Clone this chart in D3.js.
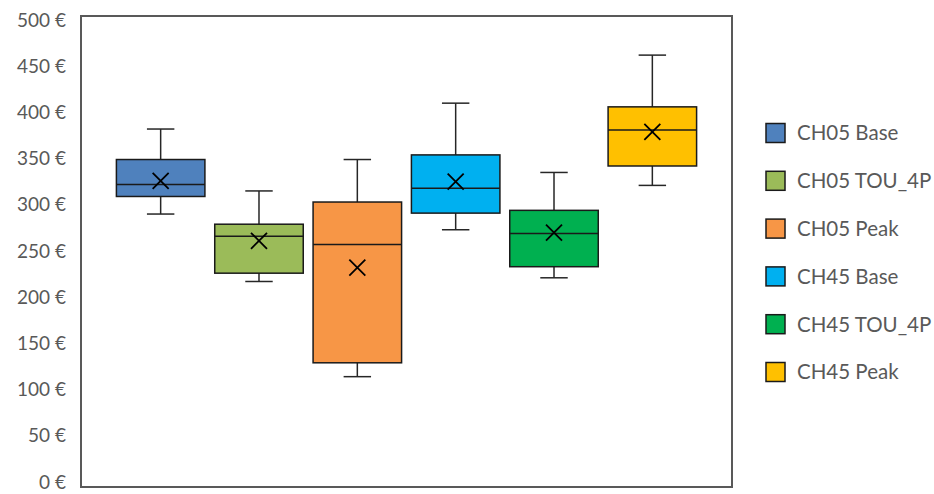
<!DOCTYPE html>
<html>
<head>
<meta charset="utf-8">
<script src="https://cdn.jsdelivr.net/npm/d3@7"></script>
<style>
  body { margin: 0; background: #fff; }
  text { font-family: Lato, "Open Sans", sans-serif; }
</style>
</head>
<body>
<div id="chart"></div>
<script>
// box plot data (values in €)
var categories = ["CH05 Base", "CH05 TOU_4P", "CH05 Peak", "CH45 Base", "CH45 TOU_4P", "CH45 Peak"];
var whiskerLow = [290, 217, 114, 273, 221, 321];
var q1 = [309, 226, 129, 291, 233, 342];
var median = [322, 266, 257, 318, 269, 381];
var q3 = [349, 279, 303, 354, 294, 406];
var whiskerHigh = [382, 315, 349, 410, 335, 462];
var mean = [326, 261, 232, 325, 270, 379];
var colors = ["#4F81BD", "#9BBB59", "#F79646", "#00B0F0", "#00B050", "#FFC000"];
var yTicks = [0, 50, 100, 150, 200, 250, 300, 350, 400, 450, 500];

var width = 934;
var height = 494;
// plot frame
var frame = { left: 81, right: 732, top: 16, bottom: 487 };

var svg = d3.select("#chart")
    .append("svg")
    .attr("width", width)
    .attr("height", height);

var data = categories.map(function(c, i) {
    return { name: c, lo: whiskerLow[i], q1: q1[i], med: median[i], q3: q3[i], hi: whiskerHigh[i], mean: mean[i], color: colors[i] };
});

// scales
var x = d3.scaleBand()
    .domain(categories)
    .range([frame.left, frame.right])
    .paddingInner(0.1)
    .paddingOuter(0.36);

var y = d3.scaleLinear()
    .domain([0, 500])
    .range([482, 20]);

// y axis labels
var yAxis = d3.axisLeft(y)
    .tickValues(yTicks)
    .tickSize(0)
    .tickPadding(15)
    .tickFormat(function(d) { return d + " €"; });

svg.append("g")
    .attr("transform", "translate(" + frame.left + ",0)")
    .call(yAxis)
    .call(function(g) { g.select(".domain").remove(); })
    .selectAll("text")
    .attr("fill", "#595959")
    .style("font-size", "19px")
    .style("font-family", "Lato, 'Open Sans', sans-serif");

// boxes
var box = svg.append("g")
    .selectAll("g")
    .data(data)
    .enter()
    .append("g");

var bw = x.bandwidth();
var cap = bw * 0.31;

// whiskers
box.append("line")
    .attr("x1", function(d) { return x(d.name) + bw / 2; })
    .attr("x2", function(d) { return x(d.name) + bw / 2; })
    .attr("y1", function(d) { return y(d.hi); })
    .attr("y2", function(d) { return y(d.lo); })
    .attr("stroke", "#262626")
    .attr("stroke-width", 1.5);

box.selectAll(".cap")
    .data(function(d) { return [d.hi, d.lo].map(function(v) { return { name: d.name, v: v }; }); })
    .enter()
    .append("line")
    .attr("class", "cap")
    .attr("x1", function(d) { return x(d.name) + bw / 2 - cap / 2; })
    .attr("x2", function(d) { return x(d.name) + bw / 2 + cap / 2; })
    .attr("y1", function(d) { return y(d.v); })
    .attr("y2", function(d) { return y(d.v); })
    .attr("stroke", "#262626")
    .attr("stroke-width", 1.5);

box.append("rect")
    .attr("x", function(d) { return x(d.name); })
    .attr("width", bw)
    .attr("y", function(d) { return y(d.q3); })
    .attr("height", function(d) { return y(d.q1) - y(d.q3); })
    .attr("fill", function(d) { return d.color; })
    .attr("stroke", "#1a1a1a")
    .attr("stroke-width", 1.5);

// median line
box.append("line")
    .attr("x1", function(d) { return x(d.name); })
    .attr("x2", function(d) { return x(d.name) + bw; })
    .attr("y1", function(d) { return y(d.med); })
    .attr("y2", function(d) { return y(d.med); })
    .attr("stroke", "#1a1a1a")
    .attr("stroke-width", 1.5);

// mean marker (x)
var m = 8;
box.append("path")
    .attr("d", function(d) {
        var cx = x(d.name) + bw / 2, cy = y(d.mean);
        return "M" + (cx - m) + "," + (cy - m) + "L" + (cx + m) + "," + (cy + m) +
               "M" + (cx - m) + "," + (cy + m) + "L" + (cx + m) + "," + (cy - m);
    })
    .attr("stroke", "#000")
    .attr("stroke-width", 1.8)
    .attr("fill", "none");

// plot frame
svg.append("rect")
    .attr("x", frame.left)
    .attr("y", frame.top)
    .attr("width", frame.right - frame.left)
    .attr("height", frame.bottom - frame.top)
    .attr("fill", "none")
    .attr("stroke", "#595959")
    .attr("stroke-width", 2);

// legend
var legend = svg.append("g")
    .selectAll("g")
    .data(data)
    .enter()
    .append("g")
    .attr("transform", function(d, i) { return "translate(766," + (133 + i * 47.8) + ")"; });

legend.append("rect")
    .attr("x", 0)
    .attr("y", -9.5)
    .attr("width", 19)
    .attr("height", 19)
    .attr("fill", function(d) { return d.color; })
    .attr("stroke", "#1a1a1a")
    .attr("stroke-width", 1.5);

legend.append("text")
    .attr("x", 31)
    .attr("y", 0)
    .attr("dy", "0.36em")
    .attr("fill", "#595959")
    .style("font-size", "20.5px")
    .text(function(d) { return d.name; });
</script>
</body>
</html>
